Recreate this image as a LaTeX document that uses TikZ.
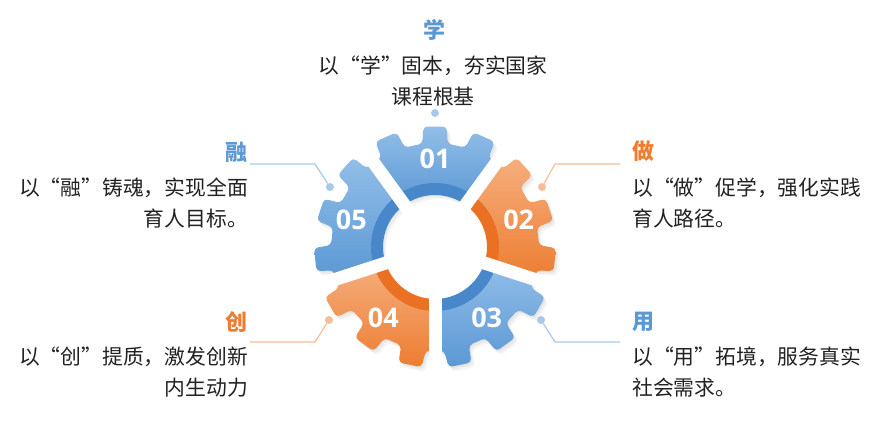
\documentclass[tikz,border=0pt]{standalone}
\usepackage{fontspec}
\setmainfont{Noto Sans CJK SC}
\newfontfamily\numfont{Open Sans}
\usepackage{tikz}
\usetikzlibrary{positioning}
\definecolor{gearblue}{RGB}{91,152,212}
\definecolor{paleblue}{RGB}{146,190,232}
\definecolor{deepblue}{RGB}{72,135,202}
\definecolor{gearorange}{RGB}{237,125,49}
\definecolor{paleorange}{RGB}{246,174,126}
\definecolor{deeporange}{RGB}{234,112,36}
\definecolor{lineblue}{RGB}{170,200,235}
\definecolor{lineorange}{RGB}{246,190,152}
\definecolor{txt}{RGB}{34,34,34}

% outline of one gear piece, centred on angle #1
\newcommand{\gearpath}[1]{(#1-36:52) -- (#1-36:104) -- (#1-31:104) -- (#1-29.5:121) -- (#1-18.5:121) -- (#1-17:104)
  -- (#1-7:104) -- (#1-5.5:121) -- (#1+5.5:121) -- (#1+7:104)
  -- (#1+17:104) -- (#1+18.5:121) -- (#1+29.5:121) -- (#1+31:104) -- (#1+36:104)
  -- (#1+36:52) arc[start angle=#1+36, end angle=#1-36, radius=52] -- cycle}

\newcommand{\gearpiece}[4]{%
  \foreach \s in {1,2,3}
    \fill[black, opacity=0.035, rounded corners=4pt, shift={(\s*1.2,-\s*1.6)}] \gearpath{#1};
  \shade[top color=#2, bottom color=#3, rounded corners=4pt] \gearpath{#1};
  \fill[#4] (#1-36:52) arc[start angle=#1-36, end angle=#1+36, radius=52]
    -- (#1+36:64) arc[start angle=#1+36, end angle=#1-36, radius=64] -- cycle;
}

\begin{document}
\begin{tikzpicture}[x=1pt, y=1pt,
  desc/.style={font=\fontsize{20.8}{31}\selectfont, text=txt, inner sep=0pt},
  headblue/.style={font=\fontsize{22}{26}\selectfont\bfseries, text=gearblue, inner sep=0pt},
  headorange/.style={font=\fontsize{22}{26}\selectfont\bfseries, text=gearorange, inner sep=0pt},
  num/.style={font=\numfont\bfseries\fontsize{27}{27}\selectfont, text=white},
  dotblue/.style={circle, fill=lineblue, minimum size=8pt, inner sep=0pt},
  dotorange/.style={circle, fill=lineorange, minimum size=8pt, inner sep=0pt},
  linkblue/.style={draw=lineblue, line width=1.2pt},
  linkorange/.style={draw=lineorange, line width=1.2pt},
  gapline/.style={white, line width=13pt}]
\fill[white] (0,0) rectangle (888,-423);
\useasboundingbox (0,0) rectangle (888,-423);

% gear
\coordinate (hub) at (435,-247);
\begin{scope}[shift={(hub)}]
\gearpiece{90}{paleblue}{gearblue}{deepblue}
\gearpiece{18}{paleorange}{gearorange}{deeporange}
\gearpiece{-54}{paleblue}{gearblue}{deepblue}
\gearpiece{234}{paleorange}{gearorange}{deeporange}
\gearpiece{162}{paleblue}{gearblue}{deepblue}
\foreach \g in {54,126,198,270,342}
  \draw[gapline] (0,0) -- (\g:135);
\node[num] (n01) at (90:88) {01};
\node[num] (n02) at (18:88) {02};
\node[num] (n03) at (-54:88) {03};
\node[num] (n04) at (234:88) {04};
\node[num] (n05) at (162:88) {05};
\end{scope}

% xue
\node[headblue] (xuehead) at (434,-30) {学};
\node[desc, align=center] (xuetext) at (433,-81.5) {以“学”固本，夯实国家\\课程根基};
\node[dotblue] (xuedot) at (435,-113) {};

% zuo
\node[headorange, anchor=west] (zuohead) at (632,-151) {做};
\node[desc, align=left, anchor=west] (zuotext) at (632,-203) {以“做”促学，强化实践\\育人路径。};
\node[dotorange] (zuodot) at (542,-187) {};
\coordinate (zuobend) at (555,-164);
\coordinate (zuoend) at (620,-164);
\draw[linkorange] (zuodot) -- (zuobend) -- (zuoend);

% yong
\node[headblue, anchor=west] (yonghead) at (632,-322) {用};
\node[desc, align=left, anchor=west] (yongtext) at (632,-372) {以“用”拓境，服务真实\\社会需求。};
\node[dotblue] (yongdot) at (541,-320) {};
\coordinate (yongbend) at (555,-342);
\coordinate (yongend) at (620,-342);
\draw[linkblue] (yongdot) -- (yongbend) -- (yongend);

% chuang
\node[headorange, anchor=east] (chuanghead) at (248,-322) {创};
\node[desc, align=right, anchor=east] (chuangtext) at (248,-372.5) {以“创”提质，激发创新\\内生动力};
\node[dotorange] (chuangdot) at (329,-320) {};
\coordinate (chuangbend) at (315,-342);
\coordinate (chuangend) at (250,-342);
\draw[linkorange] (chuangdot) -- (chuangbend) -- (chuangend);

% rong
\node[headblue, anchor=east] (ronghead) at (248,-152) {融};
\node[desc, align=right, anchor=east] (rongtext) at (248,-203) {以“融”铸魂，实现全面\\育人目标。};
\node[dotblue] (rongdot) at (330,-187) {};
\coordinate (rongbend) at (315,-164);
\coordinate (rongend) at (250,-164);
\draw[linkblue] (rongdot) -- (rongbend) -- (rongend);
\end{tikzpicture}
\end{document}
